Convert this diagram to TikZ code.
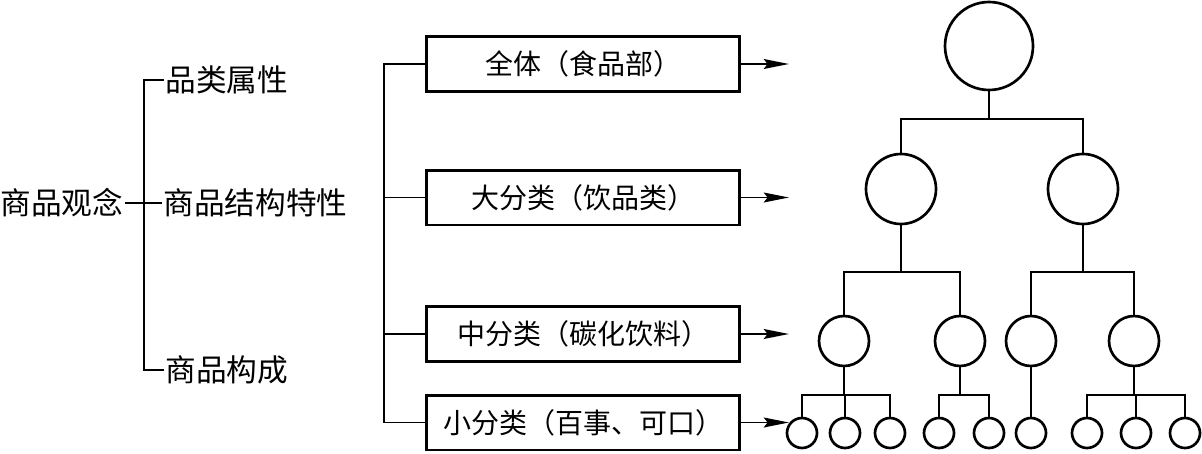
\documentclass[tikz,border=0pt]{standalone}
\usepackage{fontspec}
\setmainfont{Noto Sans CJK SC}
\usetikzlibrary{arrows.meta}

\tikzset{
  term/.style={inner sep=1pt, font=\fontsize{23}{23}\selectfont},
  catbox/.style={draw, line width=2pt, minimum width=235pt, minimum height=41pt, inner sep=0pt, font=\fontsize{21}{21}\selectfont},
  tnode/.style={draw, circle, line width=2pt, inner sep=0pt},
  link/.style={line width=1.3pt},
  pointer/.style={line width=1.3pt, -{Stealth[length=19pt,width=7.5pt,inset=3pt]}}
}

\begin{document}
\begin{tikzpicture}[x=0.75pt,y=0.75pt,yscale=-1,xscale=1]
\useasboundingbox (0,0) rectangle (1202,453);

% left bracket
\node[term, anchor=west] (concept) at (-1,203) {商品观念};
\node[term, anchor=west] (attr) at (164,80) {品类属性};
\node[term, anchor=west] (struct) at (162,203) {商品结构特性};
\node[term, anchor=west] (comp) at (164,370) {商品构成};
\coordinate (lbus) at (144,203);
\draw[link] (concept.east) -- (struct.west);
\draw[link] (attr.west) -| (lbus) |- (comp.west);

% category boxes
\node[catbox] (whole) at (583,64) {全体（食品部）};
\node[catbox] (major) at (583,197.5) {大分类（饮品类）};
\node[catbox] (middle) at (583,334) {中分类（碳化饮料）};
\node[catbox] (minor) at (583,422.5) {小分类（百事、可口）};
\coordinate (rbus) at (384,0);
\draw[link] (whole.west) -| (rbus |- minor.west) -- (minor.west);
\draw[link] (major.west) -- (rbus |- major.west);
\draw[link] (middle.west) -- (rbus |- middle.west);

\coordinate (p1) at (789,64);
\coordinate (p2) at (789,197.5);
\coordinate (p3) at (789,334);
\coordinate (p4) at (789,422.5);
\draw[pointer] (whole.east) -- (p1);
\draw[pointer] (major.east) -- (p2);
\draw[pointer] (middle.east) -- (p3);
\draw[pointer] (minor.east) -- (p4);

% tree
\node[tnode, minimum size=66pt] (root) at (989,46) {};
\node[tnode, minimum size=52.5pt] (m1) at (901,189) {};
\node[tnode, minimum size=52.5pt] (m2) at (1083,189) {};
\node[tnode, minimum size=37.5pt] (s1) at (844,341) {};
\node[tnode, minimum size=37.5pt] (s2) at (960,341) {};
\node[tnode, minimum size=37.5pt] (s3) at (1031,341) {};
\node[tnode, minimum size=37.5pt] (s4) at (1134,341) {};
\foreach \name/\x in {l1/802, l2/845, l3/890, l4/939, l5/989, l6/1031, l7/1087, l8/1136, l9/1185}
  \node[tnode, minimum size=22.5pt] (\name) at (\x,433) {};

\draw[link] (root.south) -- ++(0,28) -| (m1.north);
\draw[link] (root.south) -- ++(0,28) -| (m2.north);
\draw[link] (m1.south) -- ++(0,47) -| (s1.north);
\draw[link] (m1.south) -- ++(0,47) -| (s2.north);
\draw[link] (m2.south) -- ++(0,47) -| (s3.north);
\draw[link] (m2.south) -- ++(0,47) -| (s4.north);
\draw[link] (s1.south) -- ++(0,28) -| (l1.north);
\draw[link] (s1.south) -- ++(0,28) -| (l2.north);
\draw[link] (s1.south) -- ++(0,28) -| (l3.north);
\draw[link] (s2.south) -- ++(0,28) -| (l4.north);
\draw[link] (s2.south) -- ++(0,28) -| (l5.north);
\draw[link] (s3.south) -- (l6.north);
\draw[link] (s4.south) -- ++(0,28) -| (l7.north);
\draw[link] (s4.south) -- ++(0,28) -| (l8.north);
\draw[link] (s4.south) -- ++(0,28) -| (l9.north);
\end{tikzpicture}
\end{document}
